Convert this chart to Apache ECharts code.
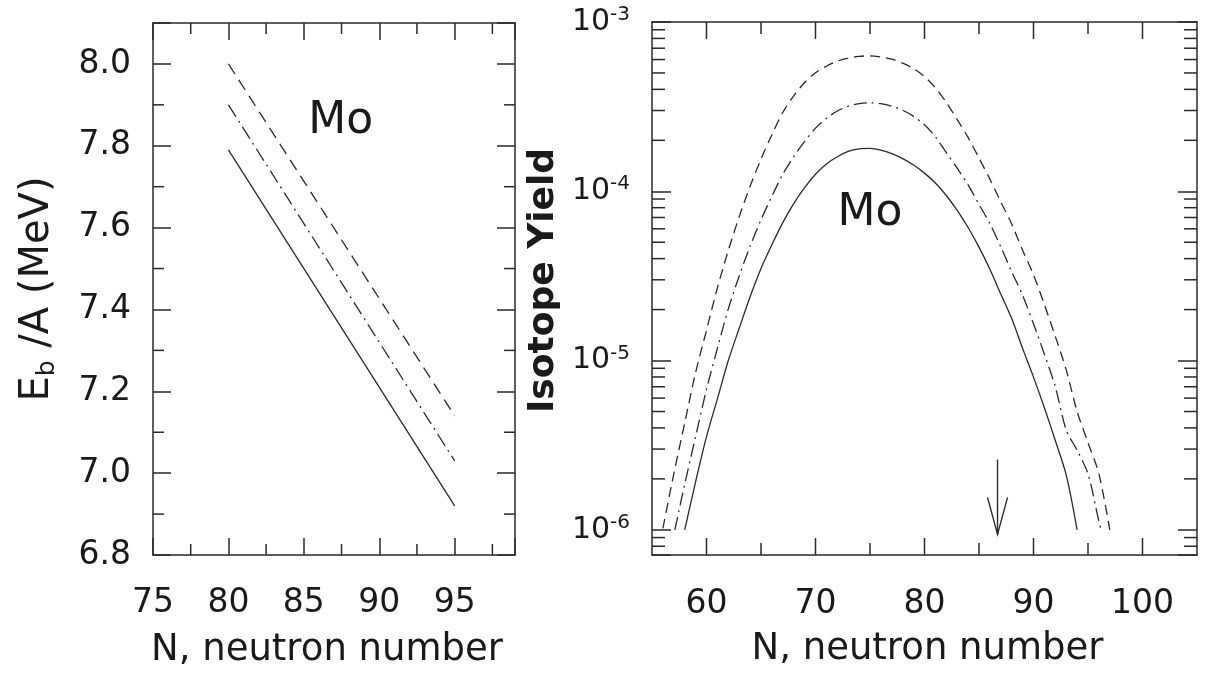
<!DOCTYPE html>
<html><head><meta charset="utf-8">
<script src="https://cdn.jsdelivr.net/npm/echarts@6/dist/echarts.min.js"></script>
<style>html,body{margin:0;padding:0;background:#fff}#c{width:1205px;height:674px}</style>
</head><body><div id="c"></div>
<script>
// ---------- Left panel: binding energy per nucleon ----------
const leftN        = [80, 95];
const leftDashed   = [8.00, 7.14];
const leftDashDot  = [7.90, 7.03];
const leftSolid    = [7.79, 6.92];
const leftXMinor   = [77.5, 82.5, 87.5, 92.5, 97.5];
const leftYMinor   = [6.9, 7.1, 7.3, 7.5, 7.7, 7.9];

// ---------- Right panel: isotope yield ----------
const rDashedN  = [56, 57, 58, 59, 60, 61, 62, 63, 64, 65, 66, 67, 68, 69, 70, 71, 72, 73, 74, 75,
                   76, 77, 78, 79, 80, 81, 82, 83, 84, 85, 86, 87, 88, 89, 90, 91, 92, 93, 94, 95, 96, 97];
const rDashedY  = [1.02e-6, 2.14e-6, 4.27e-6, 8.5e-6, 1.51e-5, 2.69e-5, 4.47e-5, 7.08e-5, 1.07e-4, 1.55e-4,
                   2.16e-4, 2.92e-4, 3.66e-4, 4.39e-4, 5.01e-4, 5.48e-4, 5.87e-4, 6.12e-4, 6.27e-4, 6.31e-4,
                   6.22e-4, 6.03e-4, 5.71e-4, 5.30e-4, 4.76e-4, 4.09e-4, 3.35e-4, 2.65e-4, 2.08e-4, 1.57e-4,
                   1.18e-4, 8.65e-5, 6.41e-5, 4.48e-5, 3.21e-5, 2.14e-5, 1.39e-5, 8.81e-6, 5.01e-6, 3.27e-6,
                   2.14e-6, 1.0e-6];
const rDashDotN = [57.1, 58, 59, 60, 61, 62, 63, 64, 65, 66, 67, 68, 69, 70, 71, 72, 73, 74, 75,
                   76, 77, 78, 79, 80, 81, 82, 83, 84, 85, 86, 87, 88, 89, 90, 91, 92, 93, 94, 95, 96, 96.2];
const rDashDotY = [1.0e-6, 1.86e-6, 3.55e-6, 6.76e-6, 1.18e-5, 2.02e-5, 3.16e-5, 4.73e-5, 6.79e-5, 9.35e-5,
                   1.26e-4, 1.60e-4, 1.97e-4, 2.36e-4, 2.70e-4, 2.98e-4, 3.18e-4, 3.29e-4, 3.33e-4,
                   3.29e-4, 3.18e-4, 3.01e-4, 2.77e-4, 2.47e-4, 2.10e-4, 1.69e-4, 1.37e-4, 1.09e-4, 8.36e-5,
                   6.43e-5, 4.70e-5, 3.35e-5, 2.43e-5, 1.65e-5, 1.09e-5, 7.01e-6, 3.89e-6, 2.95e-6, 2.14e-6,
                   1.12e-6, 1.0e-6];
const rSolidN   = [58, 59, 60, 61, 62, 63, 64, 65, 66, 67, 68, 69, 70, 71, 72, 73, 74, 75,
                   76, 77, 78, 79, 80, 81, 82, 83, 84, 85, 86, 87, 88, 89, 90, 91, 92, 93, 94];
const rSolidY   = [1.0e-6, 1.92e-6, 3.55e-6, 5.94e-6, 1.0e-5, 1.55e-5, 2.38e-5, 3.50e-5, 4.83e-5, 6.53e-5,
                   8.45e-5, 1.05e-4, 1.26e-4, 1.45e-4, 1.60e-4, 1.72e-4, 1.78e-4, 1.79e-4,
                   1.75e-4, 1.67e-4, 1.56e-4, 1.43e-4, 1.28e-4, 1.12e-4, 9.44e-5, 7.71e-5, 6.11e-5, 4.68e-5,
                   3.46e-5, 2.47e-5, 1.77e-5, 1.18e-5, 7.98e-6, 5.26e-6, 3.37e-6, 2.11e-6, 1.0e-6];
const rightXMajor = [60, 70, 80, 90, 100];
const rightXMinor = [65, 75, 85, 95];
const rightYMinor = [8e-7, 9e-7,
  2e-6, 3e-6, 4e-6, 5e-6, 6e-6, 7e-6, 8e-6, 9e-6,
  2e-5, 3e-5, 4e-5, 5e-5, 6e-5, 7e-5, 8e-5, 9e-5,
  2e-4, 3e-4, 4e-4, 5e-4, 6e-4, 7e-4, 8e-4, 9e-4];
const arrowN = 86.7, arrowFrom = 2.6e-6, arrowTo = 9.4e-7;
const moLeft = [87.45, 7.86];
const moRight = [75.0, 7.4e-5];

const zip = (a, b) => a.map((v, i) => [v, b[i]]);
const INK = '#2a2a2a';
const TXT = '#1a1a1a';
const FONT = '"DejaVu Sans", Verdana, sans-serif';

function tickSeries(xi, yi, orient, values, other, len) {
  return {
    type: 'custom', xAxisIndex: xi, yAxisIndex: yi, silent: true, z: 5,
    data: values.map(v => orient === 'y' ? [other, v] : [v, other]),
    renderItem: function (params, api) {
      const cs = params.coordSys;
      const p = api.coord([api.value(0), api.value(1)]);
      const st = { stroke: INK, lineWidth: 1.5 };
      if (orient === 'y') {
        return { type: 'group', children: [
          { type: 'line', shape: { x1: cs.x, y1: p[1], x2: cs.x + len, y2: p[1] }, style: st },
          { type: 'line', shape: { x1: cs.x + cs.width, y1: p[1], x2: cs.x + cs.width - len, y2: p[1] }, style: st }
        ]};
      }
      return { type: 'group', children: [
        { type: 'line', shape: { x1: p[0], y1: cs.y + cs.height, x2: p[0], y2: cs.y + cs.height - len }, style: st },
        { type: 'line', shape: { x1: p[0], y1: cs.y, x2: p[0], y2: cs.y + len }, style: st }
      ]};
    }
  };
}
function textSeries(xi, yi, pos, txt) {
  return {
    type: 'custom', xAxisIndex: xi, yAxisIndex: yi, silent: true, z: 6, data: [pos],
    renderItem: function (params, api) {
      const p = api.coord([api.value(0), api.value(1)]);
      return { type: 'text', x: p[0], y: p[1],
        style: { text: txt, fontSize: 44, fontFamily: FONT, fill: TXT, align: 'center', verticalAlign: 'middle' } };
    }
  };
}

const axisLine = { show: true, onZero: false, lineStyle: { color: INK, width: 1.5 } };
const label = { color: TXT, fontSize: 33, fontFamily: FONT };

const chart = echarts.init(document.getElementById('c'), null, { renderer: 'canvas' });
chart.setOption({
  animation: false,
  backgroundColor: '#fff',
  grid: [
    { left: 153, top: 23, width: 362, height: 534 },
    { left: 652, top: 22, width: 545, height: 533 }
  ],
  xAxis: [
    { gridIndex: 0, type: 'value', min: 75, max: 99, interval: 5, position: 'bottom',
      axisLine, splitLine: { show: false },
      axisTick: { inside: true, length: 17, lineStyle: { color: INK, width: 1.5 } },
      axisLabel: Object.assign({}, label, { margin: 32, formatter: v => v > 98 ? '' : String(v) }),
      name: 'N, neutron number', nameLocation: 'middle', nameGap: 77,
      nameTextStyle: { fontSize: 37, color: TXT, fontFamily: FONT, padding: [0, 14, 0, 0] } },
    { gridIndex: 0, type: 'value', min: 75, max: 99, interval: 5, position: 'top',
      axisLine, splitLine: { show: false }, axisLabel: { show: false },
      axisTick: { inside: true, length: 17, lineStyle: { color: INK, width: 1.5 } } },
    { gridIndex: 1, type: 'value', min: 55, max: 105, interval: 5, position: 'bottom',
      axisLine, splitLine: { show: false }, axisTick: { show: false },
      axisLabel: Object.assign({}, label, { margin: 33, formatter: v => (v % 10 === 0 && v >= 60 && v <= 100) ? String(v) : '' }),
      name: 'N, neutron number', nameLocation: 'middle', nameGap: 76,
      nameTextStyle: { fontSize: 37, color: TXT, fontFamily: FONT, padding: [0, 0, 0, 6] } },
    { gridIndex: 1, type: 'value', min: 55, max: 105, interval: 5, position: 'top',
      axisLine, splitLine: { show: false }, axisTick: { show: false }, axisLabel: { show: false } }
  ],
  yAxis: [
    { gridIndex: 0, type: 'value', min: 6.8, max: 8.1, interval: 0.2, position: 'left',
      axisLine, splitLine: { show: false },
      axisTick: { inside: true, length: 18, lineStyle: { color: INK, width: 1.5 } },
      axisLabel: Object.assign({}, label, { margin: 22, formatter: v => v > 8.05 ? '' : v.toFixed(1) }),
      name: 'E{sub|b} /A (MeV)', nameLocation: 'middle', nameGap: 93,
      nameTextStyle: { fontSize: 40, color: TXT, fontFamily: FONT,
        rich: { sub: { fontSize: 25, fontFamily: FONT, color: TXT, padding: [19, 0, 0, 0] } } } },
    { gridIndex: 0, type: 'value', min: 6.8, max: 8.1, interval: 0.2, position: 'right',
      axisLine, splitLine: { show: false }, axisLabel: { show: false },
      axisTick: { inside: true, length: 18, lineStyle: { color: INK, width: 1.5 } } },
    { gridIndex: 1, type: 'log', logBase: 10, min: 7.1e-7, max: 1e-3, position: 'left',
      axisLine, splitLine: { show: false },
      axisTick: { inside: true, length: 19, lineStyle: { color: INK, width: 1.5 } },
      axisLabel: { color: TXT, fontSize: 30, fontFamily: FONT, margin: 22,
        formatter: v => { const e = Math.log10(v), r = Math.round(e); return Math.abs(e - r) > 1e-6 ? '' : '10{sup|' + r + '}'; },
        rich: { sup: { fontSize: 20, fontFamily: FONT, color: TXT, verticalAlign: 'top', padding: [0, 0, 14, 0] } } },
      name: 'Isotope Yield', nameLocation: 'middle', nameGap: 90,
      nameTextStyle: { fontSize: 36, fontWeight: 'bold', color: TXT, fontFamily: FONT, padding: [0, 0, 0, 16] } },
    { gridIndex: 1, type: 'log', logBase: 10, min: 7.1e-7, max: 1e-3, position: 'right',
      axisLine, splitLine: { show: false }, axisLabel: { show: false },
      axisTick: { inside: true, length: 19, lineStyle: { color: INK, width: 1.5 } } }
  ],
  series: [
    // left panel curves
    { type: 'line', xAxisIndex: 0, yAxisIndex: 0, data: zip(leftN, leftDashed), symbol: 'none',
      lineStyle: { color: INK, width: 1.3, type: [12, 7] } },
    { type: 'line', xAxisIndex: 0, yAxisIndex: 0, data: zip(leftN, leftDashDot), symbol: 'none',
      lineStyle: { color: INK, width: 1.3, type: [14, 5, 2, 5] } },
    { type: 'line', xAxisIndex: 0, yAxisIndex: 0, data: zip(leftN, leftSolid), symbol: 'none',
      lineStyle: { color: INK, width: 1.3 } },
    // right panel curves
    { type: 'line', xAxisIndex: 2, yAxisIndex: 2, data: zip(rDashedN, rDashedY), symbol: 'none', smooth: 0.3,
      lineStyle: { color: INK, width: 1.3, type: [10, 6] } },
    { type: 'line', xAxisIndex: 2, yAxisIndex: 2, data: zip(rDashDotN, rDashDotY), symbol: 'none', smooth: 0.3,
      lineStyle: { color: INK, width: 1.3, type: [13, 5, 2, 5] } },
    { type: 'line', xAxisIndex: 2, yAxisIndex: 2, data: zip(rSolidN, rSolidY), symbol: 'none', smooth: 0.3,
      lineStyle: { color: INK, width: 1.3 } },
    // minor / extra ticks
    tickSeries(0, 0, 'x', leftXMinor, 7.5, 11),
    tickSeries(0, 0, 'y', leftYMinor, 85, 11),
    tickSeries(2, 2, 'x', rightXMajor, 1e-5, 17),
    tickSeries(2, 2, 'x', rightXMinor, 1e-5, 12),
    tickSeries(2, 2, 'y', rightYMinor, 80, 13),
    // arrow
    { type: 'custom', xAxisIndex: 2, yAxisIndex: 2, silent: true, z: 6,
      data: [[arrowN, arrowFrom, arrowTo]],
      renderItem: function (params, api) {
        const a = api.coord([api.value(0), api.value(1)]);
        const b = api.coord([api.value(0), api.value(2)]);
        const st = { stroke: INK, lineWidth: 1.4, fill: null };
        return { type: 'group', children: [
          { type: 'line', shape: { x1: a[0], y1: a[1], x2: b[0], y2: b[1] }, style: st },
          { type: 'polyline', shape: { points: [[b[0] - 10, b[1] - 37], [b[0], b[1]], [b[0] + 10, b[1] - 37]] }, style: st }
        ]};
      } },
    // "Mo" labels
    textSeries(0, 0, moLeft, 'Mo'),
    textSeries(2, 2, moRight, 'Mo')
  ]
});
</script>
</body></html>
